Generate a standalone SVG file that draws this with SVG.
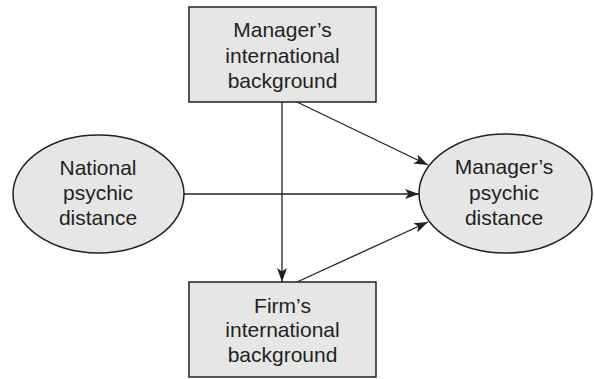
<svg xmlns="http://www.w3.org/2000/svg" width="594" height="379" viewBox="0 0 594 379">
<style>
.shape{fill:#e6e6e6;stroke:#231f20;stroke-width:1.5}
.lbl{font-family:"Liberation Sans",Arial,sans-serif;font-size:21px;fill:#231f20;text-anchor:middle}
.conn{stroke:#231f20;stroke-width:1.3;fill:none;marker-end:url(#ah)}
</style>
<defs>
<marker id="ah" viewBox="0 0 14 10" refX="14" refY="5" markerWidth="14" markerHeight="10" markerUnits="userSpaceOnUse" orient="auto">
<path d="M0,0 L14,5 L0,10 L3.5,5 Z" fill="#231f20"/>
</marker>
</defs>
<rect width="594" height="379" fill="#ffffff"/>
<g id="connectors">
<line class="conn" x1="282" y1="102" x2="282" y2="282"/>
<line class="conn" x1="184" y1="194" x2="419" y2="194"/>
<line class="conn" x1="297" y1="102" x2="428" y2="165"/>
<line class="conn" x1="297" y1="282" x2="428" y2="222"/>
</g>
<g id="managers-intl-bg">
<rect class="shape" x="189" y="7" width="187" height="95"/>
<text class="lbl" x="282.5" y="37">Manager’s</text>
<text class="lbl" x="282.5" y="63">international</text>
<text class="lbl" x="282.5" y="88">background</text>
</g>
<g id="national-psychic-distance">
<ellipse class="shape" cx="98.5" cy="194" rx="85.5" ry="59"/>
<text class="lbl" x="98" y="175">National</text>
<text class="lbl" x="98" y="200">psychic</text>
<text class="lbl" x="98" y="225">distance</text>
</g>
<g id="managers-psychic-distance">
<ellipse class="shape" cx="505.5" cy="193.5" rx="86.5" ry="59.5"/>
<text class="lbl" x="504" y="174">Manager’s</text>
<text class="lbl" x="504" y="200">psychic</text>
<text class="lbl" x="504" y="225">distance</text>
</g>
<g id="firms-intl-bg">
<rect class="shape" x="189" y="282" width="187" height="95"/>
<text class="lbl" x="282.5" y="313">Firm’s</text>
<text class="lbl" x="282.5" y="337">international</text>
<text class="lbl" x="282.5" y="362">background</text>
</g>
</svg>
